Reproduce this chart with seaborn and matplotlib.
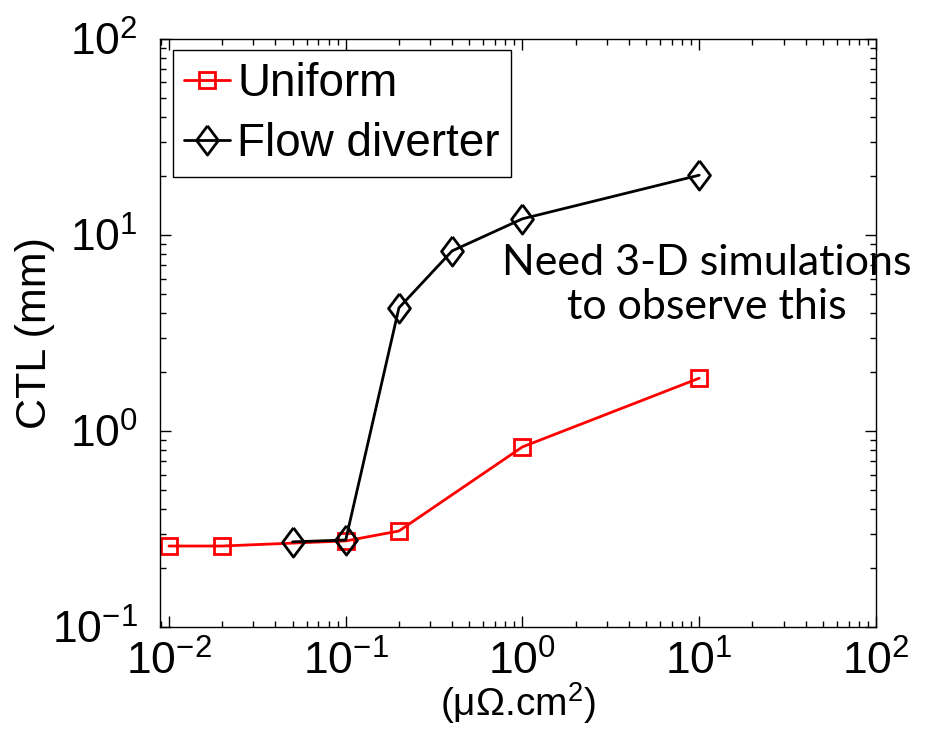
import numpy as np
import pandas as pd
import matplotlib
matplotlib.use("Agg")
import matplotlib.pyplot as plt
import seaborn as sns

# data
uniform_x = [0.01, 0.02, 0.1, 0.2, 1, 10]
uniform_y = [0.259, 0.259, 0.275, 0.309, 0.83, 1.86]
diverter_x = [0.05, 0.1, 0.2, 0.4, 1, 10]
diverter_y = [0.272, 0.278, 4.25, 8.3, 12.1, 20.2]
series_names = ["Uniform", "Flow diverter"]
note_text = "Need 3-D simulations\nto observe this"

sns.set_style("ticks")
plt.rcParams['font.family'] = ['Liberation Sans', 'DejaVu Sans']
plt.rcParams['mathtext.fontset'] = 'custom'
plt.rcParams['mathtext.rm'] = 'Liberation Sans'
plt.rcParams['mathtext.it'] = 'Liberation Sans'
plt.rcParams['mathtext.default'] = 'regular'
plt.rcParams['text.color'] = 'black'
plt.rcParams['axes.labelcolor'] = 'black'
plt.rcParams['xtick.color'] = 'black'
plt.rcParams['ytick.color'] = 'black'

df_u = pd.DataFrame({"x": uniform_x, "y": uniform_y})
df_d = pd.DataFrame({"x": diverter_x, "y": diverter_y})

fig = plt.figure(figsize=(9.25, 7.32), dpi=100)
ax = fig.add_axes([0.173, 0.1434, 0.774, 0.8033])

# diamond a bit narrower than tall, like matlab
diamond = [(0, 1), (0.75, 0), (0, -1), (-0.75, 0), (0, 1)]

sns.lineplot(data=df_u, x="x", y="y", ax=ax, color="red", lw=2,
             marker="s", markersize=12, markerfacecolor="none",
             markeredgecolor="red", markeredgewidth=2,
             label=series_names[0], sort=False)
sns.lineplot(data=df_d, x="x", y="y", ax=ax, color="black", lw=2,
             marker=diamond, markersize=21, markerfacecolor="none",
             markeredgecolor="black", markeredgewidth=2,
             label=series_names[1], sort=False)

ax.set_xscale("log")
ax.set_yscale("log")
ax.set_xlim(0.0089, 100)
ax.set_ylim(0.1, 100)

ax.tick_params(which="both", direction="in", top=True, right=True,
               width=1, labelsize=32)
ax.tick_params(axis="x", pad=10)
ax.tick_params(axis="y", pad=16)
ax.tick_params(which="major", length=8)
ax.tick_params(which="minor", length=4)
for s in ax.spines.values():
    s.set_linewidth(1)
    s.set_color("black")

ax.set_xlabel("(\u03bc\u03a9.cm$^2$)", fontsize=28, labelpad=-3)
ax.set_ylabel("CTL (mm)", fontsize=31, labelpad=-2)

ax.text(0.764, 0.581, note_text, transform=ax.transAxes, ha="center",
        va="center", fontsize=31, family=["Lato", "DejaVu Sans"],
        linespacing=1.2)

leg = ax.legend(loc="upper left", bbox_to_anchor=(0.018, 0.981),
                borderaxespad=0, fontsize=33, handlelength=1.0,
                handletextpad=0.15, labelspacing=0.35, borderpad=0.25,
                fancybox=False, framealpha=1, edgecolor="black")
leg.get_frame().set_linewidth(1)

fig.savefig("out.png", dpi=100)
